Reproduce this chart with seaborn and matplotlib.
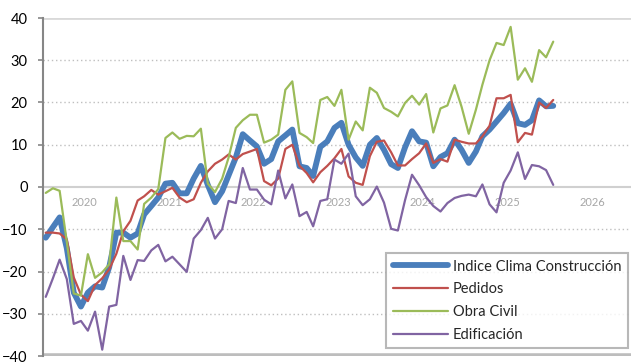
import pandas as pd
import numpy as np
import matplotlib
matplotlib.use("Agg")
import matplotlib.pyplot as plt
import matplotlib.dates as mdates
import seaborn as sns

# monthly values, Jan 2020 - Jan 2026
indice = [-12, -9.5, -7.2, -14.5, -25, -28.3, -25, -23.5, -23.8, -19, -10.8, -10.8,
          -12, -11, -6.5, -4.5, -2.5, 0.8, 1, -1.5, -1.5, 2, 5, 0.5,
          -3.6, -1, 2.8, 7, 12.5, 11, 9.6, 5.5, 6.6, 10.8, 12.2, 13.6,
          4.9, 4.5, 2.6, 9.5, 10.8, 14, 15.2, 10, 7, 5, 10, 11.6,
          8.8, 5.4, 4.5, 9.4, 13.2, 10.8, 10.5, 4.9, 7.1, 8, 11.2, 8.8,
          5.7, 8.4, 12, 13.6, 15.5, 17.5, 19.7, 15.1, 14.7, 15.8, 20.5, 19.1,
          19.2]
pedidos = [-10.8, -10.8, -11, -12.4, -21.4, -25.5, -27, -23.2, -21.6, -19.5, -15.8, -10.5,
           -8, -3.2, -2.2, -0.7, -1.8, -1, -0.2, -2.5, -3.6, -2.9, 1, 3.7,
           5.5, 6.5, 7.7, 6.5, 7.8, 8.4, 9, 1.4, 0.4, 2, 9, 10,
           5, 3.3, 1.1, 3.5, 5, 6.8, 9, 2.5, 1, 0.5, 7.3, 10.7,
           11, 8.2, 5.1, 5.1, 6.6, 8, 10.3, 5.7, 6.6, 6, 11.2, 10.7,
           10.3, 10.3, 12, 14.5, 21, 21, 21.8, 10.6, 12.8, 12.4, 20, 18.7,
           20.6]
obra_civil = [-1.4, -0.3, -0.9, -13, -25.2, -25.7, -15.9, -21.5, -20.2, -18.3, -2.5, -12.8,
              -12.8, -14.8, -4, -2.5, -0.5, 11.6, 12.9, 11.4, 12.1, 12, 13.8, 0.8,
              -1.2, 2, 7, 14, 15.8, 17.1, 17.1, 10.5, 11.2, 12.4, 23, 25,
              12.8, 11.8, 10.4, 20.6, 21.3, 19.2, 23, 11.2, 15.5, 13.4, 23.5, 22.3,
              18.7, 17.8, 16.7, 19.9, 21.6, 19.5, 22, 12.9, 18.6, 19.3, 24.1, 19,
              12.6, 18.3, 24.2, 30, 34.1, 33.6, 37.9, 25.4, 28.1, 24.9, 32.4, 30.7,
              34.4]
edificacion = [-26, -21.6, -17.2, -21.8, -32.4, -31.7, -34, -29.5, -38.5, -28.3, -27.9, -16.3,
               -22, -17.3, -17.5, -15, -13.7, -17.6, -16.5, -18.3, -20.1, -12.2, -10.2, -7.3,
               -12.2, -10, -3.3, -3.8, 4.5, -0.6, -0.6, -3, -4.1, 3.9, -2.7, 0.6,
               -6.9, -5.9, -9.3, -3.3, -2.9, 6.5, 5.5, 7.9, -2.2, -4.3, -2.9, 0.1,
               -3.7, -9.9, -10.3, -3.1, 2.9, 0.4, -2.4, -4.5, -5.8, -3.8, -2.6, -2.1,
               -1.8, -2.2, 0.6, -4.1, -6, 1, 3.9, 8.2, 1.9, 5.2, 4.9, 4,
               0.5]

fechas = pd.date_range("2020-01-01", periods=len(indice), freq="MS") + pd.Timedelta(days=14)

series = ["Indice Clima Construcción", "Pedidos", "Obra Civil", "Edificación"]
colores = ["#4a7ebb", "#c0504d", "#9bbb59", "#8064a2"]
grosor = [4.2, 1.6, 1.6, 1.6]
valores = [indice, pedidos, obra_civil, edificacion]

sns.set_style("white")
plt.rcParams['font.family'] = ['Lato', 'DejaVu Sans']

fig = plt.figure(figsize=(6.31, 3.63), dpi=100)
ax = fig.add_axes([42.5 / 631, 7 / 363, 592 / 631, 338 / 363])

for nombre, vals, col, lw in zip(series, valores, colores, grosor):
    df = pd.DataFrame({"fecha": fechas, "valor": vals})
    sns.lineplot(data=df, x="fecha", y="valor", ax=ax, color=col, linewidth=lw,
                 label=nombre, zorder=3, solid_joinstyle="round", solid_capstyle="round")

ax.set_ylim(-40, 40)
ax.set_xlim(pd.Timestamp("2020-01-01"), pd.Timestamp("2027-01-01"))
ax.set_yticks(range(-40, 41, 10))
ax.set_xlabel("")
ax.set_ylabel("")

# gridlines
for v in range(-30, 40, 10):
    if v != 0:
        ax.axhline(v, color="#bfbfbf", linestyle=(0, (1, 2)), linewidth=1, zorder=1)
ax.axhline(40, color="#d9d9d9", linewidth=2, zorder=1)
ax.axhline(-40, color="#bdbdbd", linewidth=4, zorder=1)

for s in ["top", "right"]:
    ax.spines[s].set_visible(False)
ax.spines["left"].set_color("#868686")
ax.spines["left"].set_linewidth(1.5)
ax.spines["bottom"].set_position(("data", 0))
ax.spines["bottom"].set_color("#d0d0d0")
ax.spines["bottom"].set_linewidth(1.5)
ax.spines["bottom"].set_zorder(2)

ax.xaxis.set_major_locator(mdates.YearLocator())
ax.xaxis.set_major_formatter(plt.NullFormatter())
ax.xaxis.set_minor_locator(mdates.MonthLocator(bymonth=7))
ax.xaxis.set_minor_formatter(mdates.DateFormatter("%Y"))
ax.tick_params(axis="x", which="major", length=3.5, width=1, color="#c0c0c0", direction="out")
ax.tick_params(axis="x", which="minor", length=0, pad=7, labelsize=8, labelcolor="#a6a6a6")
ax.tick_params(axis="y", length=3.6, width=1.2, color="#868686", pad=7, labelsize=10.5,
               labelcolor="black", left=True)

leg = ax.legend(loc="upper left", bbox_to_anchor=(386 / 631, 1 - 253 / 363),
                bbox_transform=fig.transFigure, borderaxespad=0, fontsize=10.5,
                frameon=True, fancybox=False, handlelength=3.8, handletextpad=0.35,
                labelspacing=0.6, borderpad=0.45)
leg.get_frame().set_edgecolor("#a6a6a6")
leg.get_frame().set_linewidth(1.5)
leg.set_zorder(5)

fig.savefig("out.png", dpi=100)
